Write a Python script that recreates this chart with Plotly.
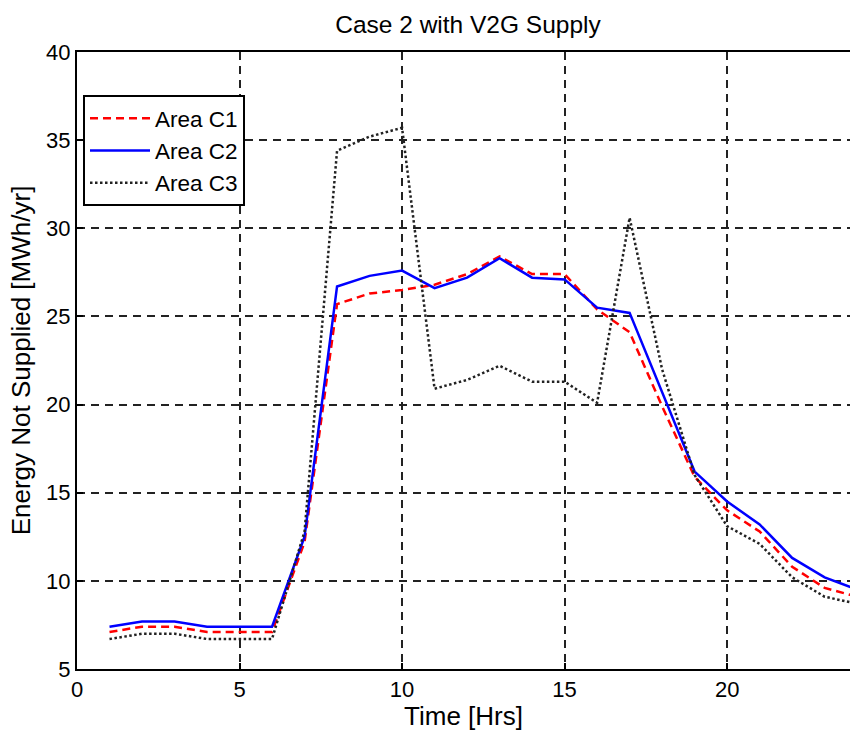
import plotly.graph_objects as go

hours = list(range(1, 25))
area_c1 = [7.1, 7.4, 7.4, 7.1, 7.1, 7.1, 12.2, 25.7, 26.3, 26.5, 26.8, 27.4,
           28.4, 27.4, 27.4, 25.4, 24.1, 19.9, 15.9, 14.0, 12.8, 10.8, 9.6, 9.1]
area_c2 = [7.4, 7.7, 7.7, 7.4, 7.4, 7.4, 12.5, 26.7, 27.3, 27.6, 26.6, 27.2,
           28.3, 27.2, 27.1, 25.5, 25.2, 20.7, 16.2, 14.5, 13.2, 11.3, 10.2, 9.5]
area_c3 = [6.7, 7.0, 7.0, 6.7, 6.7, 6.7, 12.8, 34.4, 35.2, 35.7, 20.9, 21.4,
           22.2, 21.3, 21.3, 20.1, 30.6, 22.0, 16.0, 13.1, 12.1, 10.2, 9.1, 8.7]
x_ticks = [0, 5, 10, 15, 20]
y_ticks = [5, 10, 15, 20, 25, 30, 35, 40]

FONT = "Liberation Sans, Arial, Helvetica, sans-serif"

fig = go.Figure()
fig.add_trace(go.Scatter(x=hours, y=area_c1, mode="lines", name="Area C1",
                         line=dict(color="#ff0000", width=2.5, dash="8px,5px")))
fig.add_trace(go.Scatter(x=hours, y=area_c2, mode="lines", name="Area C2",
                         line=dict(color="#0000ff", width=2.5)))
fig.add_trace(go.Scatter(x=hours, y=area_c3, mode="lines", name="Area C3",
                         line=dict(color="#222222", width=2.5, dash="2.5px,2.5px")))

fig.update_layout(
    width=850, height=731,
    margin=dict(l=77, r=0, t=52, b=62),
    paper_bgcolor="white", plot_bgcolor="white",
    font=dict(family=FONT, size=22, color="black"),
    title=dict(text="Case 2 with V2G Supply", x=468 / 850, xanchor="center",
               xref="container", y=1 - 24 / 731, yref="container", yanchor="middle",
               font=dict(size=24.5, color="black", family=FONT)),
    showlegend=True,
    legend=dict(x=(83 - 77) / (850 - 77), y=(669 - 95) / (669 - 52), xanchor="left", yanchor="top",
                bgcolor="white", bordercolor="black", borderwidth=2,
                font=dict(size=22.5, family=FONT), tracegroupgap=0, itemwidth=60),
)
fig.update_xaxes(range=[0, 23.78], tickvals=x_ticks, ticks="inside", ticklen=6, tickwidth=1.5,
                 tickcolor="black", showline=True, linecolor="black", linewidth=2, mirror=True,
                 showgrid=True, gridcolor="#222222", gridwidth=1.5, griddash="8px,6px",
                 zeroline=False, title=dict(text="Time [Hrs]", standoff=4),
                 tickfont=dict(size=22))
fig.update_yaxes(range=[5, 40], tickvals=y_ticks, ticks="inside", ticklen=6, tickwidth=1.5,
                 tickcolor="black", showline=True, linecolor="black", linewidth=2, mirror=False,
                 showgrid=True, gridcolor="#222222", gridwidth=1.5, griddash="8px,6px",
                 zeroline=False, title=dict(text="Energy Not Supplied [MWh/yr]", standoff=8),
                 tickfont=dict(size=22))

fig.write_html("out.html")
